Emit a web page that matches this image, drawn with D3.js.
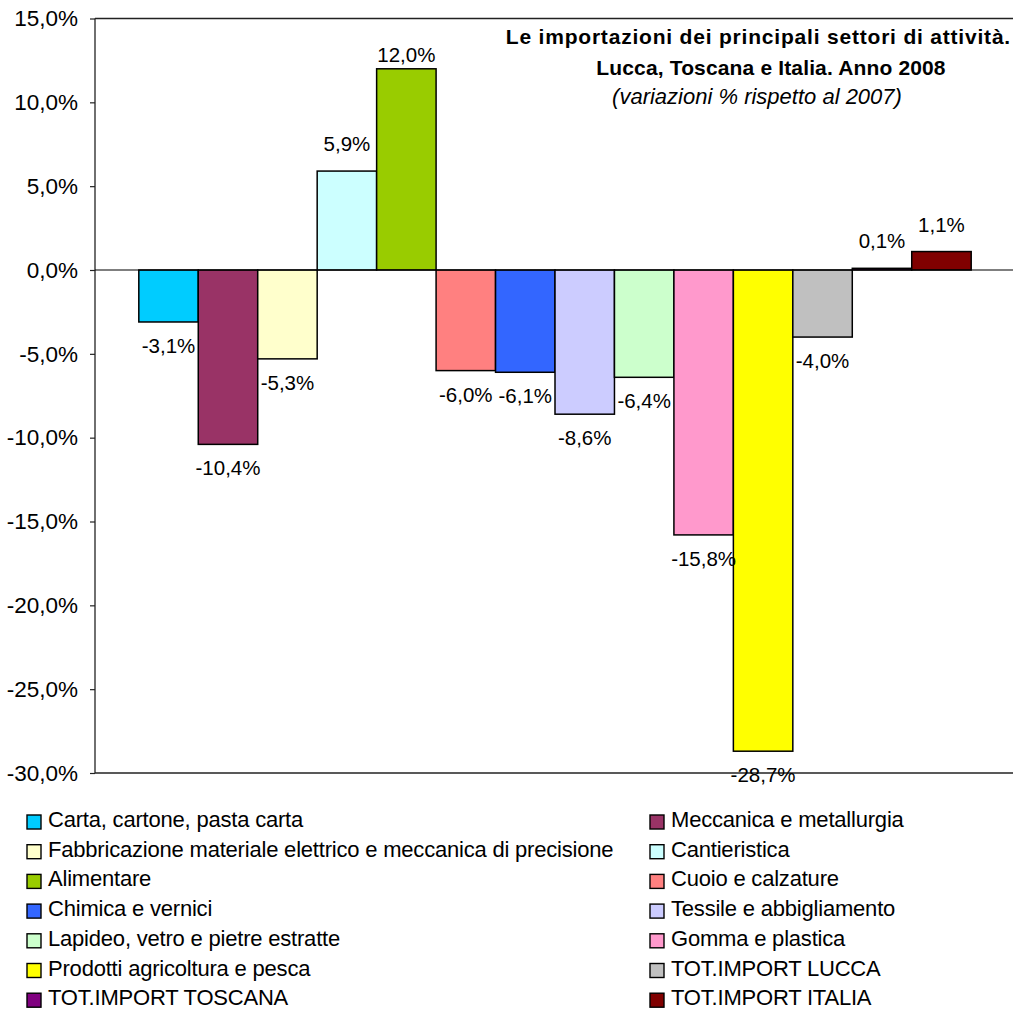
<!DOCTYPE html>
<meta charset="utf-8">
<script src="https://d3js.org/d3.v7.min.js"></script>
<style>
  body { margin: 0; background: #fff; }
  text { font-family: "Liberation Sans", Arial, sans-serif; }
</style>
<body>
<div id="chart"></div>
<script>

// settori e variazioni % 2008/2007
var sectors = [
  "Carta, cartone, pasta carta",
  "Meccanica e metallurgia",
  "Fabbricazione materiale elettrico e meccanica di precisione",
  "Cantieristica",
  "Alimentare",
  "Cuoio e calzature",
  "Chimica e vernici",
  "Tessile e abbigliamento",
  "Lapideo, vetro e pietre estratte",
  "Gomma e plastica",
  "Prodotti agricoltura e pesca",
  "TOT.IMPORT LUCCA",
  "TOT.IMPORT TOSCANA",
  "TOT.IMPORT ITALIA"
];
var values = [-3.1, -10.4, -5.3, 5.9, 12.0, -6.0, -6.1, -8.6, -6.4, -15.8, -28.7, -4.0, 0.1, 1.1];
var colors = ["#00CCFF", "#993366", "#FFFFCC", "#CCFFFF", "#99CC00", "#FF8080", "#3366FF",
              "#CCCCFF", "#CCFFCC", "#FF99CC", "#FFFF00", "#C0C0C0", "#800080", "#800000"];
var yTicks = [15, 10, 5, 0, -5, -10, -15, -20, -25, -30];
var titleLines = [
  "Le importazioni dei principali settori di attività.",
  "Lucca, Toscana e Italia. Anno 2008",
  "(variazioni % rispetto al 2007)"
];

var width = 1013, height = 1009;
var plot = {left: 95, right: 1013, top: 18.5, bottom: 773};

var svg = d3.select("#chart").append("svg")
  .attr("width", width)
  .attr("height", height);

// formato italiano con trattino normale
var fmt = function(v) { return d3.format(".1f")(v).replace(".", ",").replace("\u2212", "-") + "%"; };

var x = d3.scaleBand()
  .domain(sectors)
  .range([plot.left + 1, plot.right + 1])
  .paddingInner(0)
  .paddingOuter(0.72);

var y = d3.scaleLinear()
  .domain([-30, 15])
  .range([plot.bottom, plot.top]);

// y axis
var yAxis = svg.append("g")
  .attr("transform", "translate(" + plot.left + ",0)")
  .call(d3.axisLeft(y).tickValues(yTicks).tickSize(5).tickPadding(12).tickFormat(fmt));
yAxis.select(".domain").remove();
yAxis.selectAll("line").attr("stroke", "#222").attr("stroke-width", 1.2);
yAxis.selectAll("text")
  .style("font-size", "22.5px")
  .attr("fill", "#000");

// frame
svg.append("line")
  .attr("x1", plot.left).attr("x2", plot.left)
  .attr("y1", plot.top).attr("y2", plot.bottom)
  .attr("stroke", "#222").attr("stroke-width", 1.3);
svg.append("line")
  .attr("x1", plot.left).attr("x2", plot.right)
  .attr("y1", plot.top).attr("y2", plot.top)
  .attr("stroke", "#222").attr("stroke-width", 1.3);
svg.append("line")
  .attr("x1", plot.left).attr("x2", plot.right)
  .attr("y1", plot.bottom).attr("y2", plot.bottom)
  .attr("stroke", "#222").attr("stroke-width", 1.3);

// bars
var data = sectors.map(function(s, i) { return {name: s, value: values[i], color: colors[i]}; });

svg.append("g")
  .selectAll("rect")
  .data(data)
  .enter()
  .append("rect")
    .attr("x", function(d) { return x(d.name); })
    .attr("width", x.bandwidth())
    .attr("y", function(d) { return y(Math.max(0, d.value)); })
    .attr("height", function(d) { return Math.abs(y(d.value) - y(0)); })
    .attr("fill", function(d) { return d.color; })
    .attr("stroke", "#000")
    .attr("stroke-width", 1.5);

// zero line
svg.append("line")
  .attr("x1", plot.left).attr("x2", plot.right)
  .attr("y1", y(0)).attr("y2", y(0))
  .attr("stroke", "#000").attr("stroke-width", 1.2);

// value labels
svg.append("g")
  .selectAll("text")
  .data(data)
  .enter()
  .append("text")
    .attr("x", function(d) { return x(d.name) + x.bandwidth() / 2; })
    .attr("y", function(d) {
      if (d.value < 0) return y(d.value) + 31;
      return Math.max(y(d.value) - 20, 62);
    })
    .attr("text-anchor", "middle")
    .style("font-size", "20.5px")
    .attr("fill", "#000")
    .text(function(d) { return fmt(d.value); });

// title
svg.append("text")
  .attr("x", 1011).attr("y", 44)
  .attr("text-anchor", "end")
  .style("font-size", "21px").style("font-weight", "bold")
  .style("letter-spacing", "0.8px")
  .text(titleLines[0]);
svg.append("text")
  .attr("x", 771).attr("y", 75)
  .attr("text-anchor", "middle")
  .style("font-size", "21px").style("font-weight", "bold")
  .style("letter-spacing", "0.15px")
  .text(titleLines[1]);
svg.append("text")
  .attr("x", 757).attr("y", 104)
  .attr("text-anchor", "middle")
  .style("font-size", "22px").style("font-style", "italic")
  .text(titleLines[2]);

// legend: two columns
var legend = svg.append("g")
  .selectAll("g")
  .data(data)
  .enter()
  .append("g")
    .attr("transform", function(d, i) {
      var col = i % 2, row = Math.floor(i / 2);
      return "translate(" + (col === 0 ? 27 : 650) + "," + (815 + row * 29.7) + ")";
    });
legend.append("rect")
  .attr("width", 14).attr("height", 14)
  .attr("fill", function(d) { return d.color; })
  .attr("stroke", "#000").attr("stroke-width", 1.4);
legend.append("text")
  .attr("x", 21).attr("y", 12)
  .style("font-size", "22px")
  .style("letter-spacing", "-0.2px")
  .attr("fill", "#000")
  .text(function(d) { return d.name; });

</script>
</body>
